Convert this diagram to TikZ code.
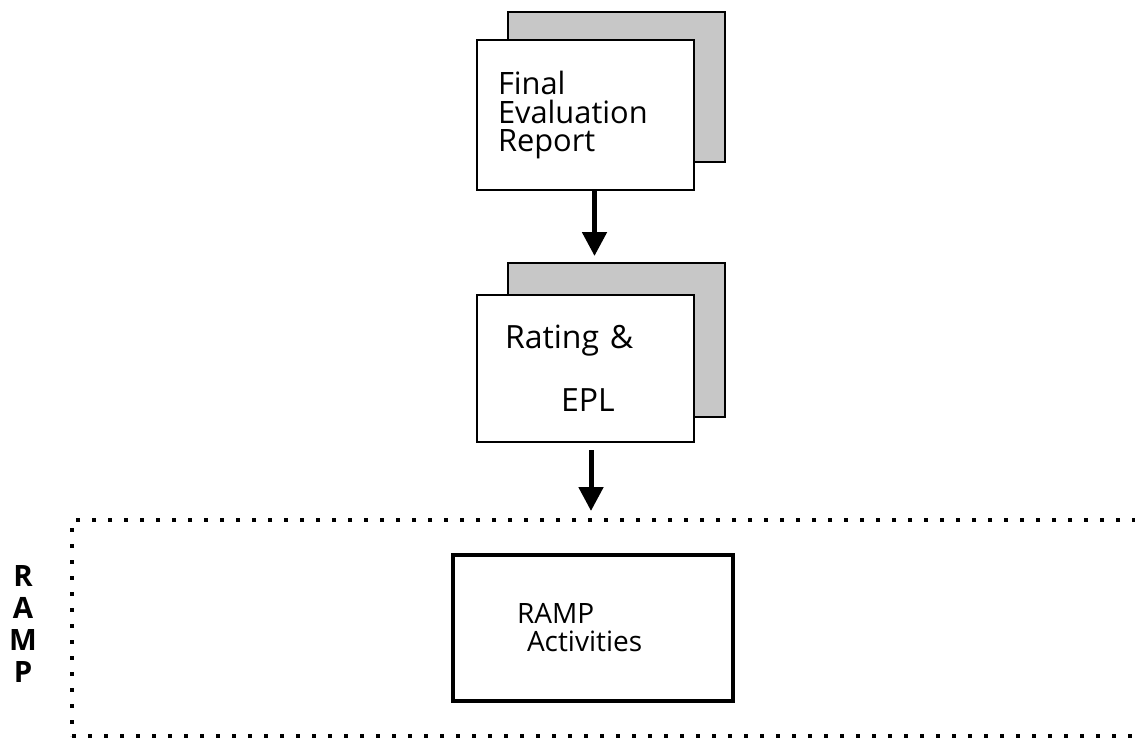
\documentclass[tikz,border=0pt]{standalone}
\usepackage{fontspec}
\setmainfont{Open Sans}
\usetikzlibrary{arrows.meta, positioning}

\begin{document}
\begin{tikzpicture}[x=0.5pt, y=-0.5pt,
  sheet/.style={draw, line width=1pt, fill=white, minimum width=108.5pt, minimum height=75pt, inner sep=0pt},
  backsheet/.style={sheet, fill=black!22},
  flow/.style={-{Triangle[length=12pt, width=12pt]}, line width=2.5pt},
  zone/.style={draw, line width=2pt, dash pattern=on 2pt off 6pt}]
  \useasboundingbox (0,0) rectangle (1135,740);

  % Final evaluation report
  \node[backsheet] (reportbg) at (616.5,86.5) {};
  \node[sheet, align=left, text width=87.5pt, inner xsep=10.5pt, font=\fontsize{15.4}{14.3}\selectfont] (report) at (585.5,115) {Final\\Evaluation\\Report};

  % Rating and EPL
  \node[backsheet, minimum height=77pt] (ratingbg) at (616.5,340) {};
  \node[sheet, minimum height=73.5pt, align=left, text width=80pt, inner xsep=14pt, font=\fontsize{16}{31.5}\selectfont] (rating) at (585,368.5) {Rating \&\\\hspace*{28pt}EPL};

  % RAMP zone
  \node[zone, minimum width=564pt, minimum height=108pt] (rampzone) at (636,628) {};
  \node[draw, line width=2pt, minimum height=73pt, align=left, text width=76pt, inner xsep=32pt, font=\fontsize{14}{14}\selectfont] (ramp) at (593,628) {RAMP\\\hspace*{5pt}Activities};
  \node[font=\bfseries\fontsize{14.7}{16}\selectfont, align=center, inner sep=0pt] (ramplabel) at (23,624) {R\\A\\M\\P};

  % Arrows
  \coordinate (a1) at ([xshift=4.5pt]report.south);
  \draw[flow, shorten >=3pt] (a1) -- (a1 |- ratingbg.north);
  \coordinate (a2) at ([xshift=3pt]rating.south);
  \draw[flow, shorten <=3.5pt, shorten >=3.5pt] (a2) -- (a2 |- rampzone.north);
\end{tikzpicture}
\end{document}
